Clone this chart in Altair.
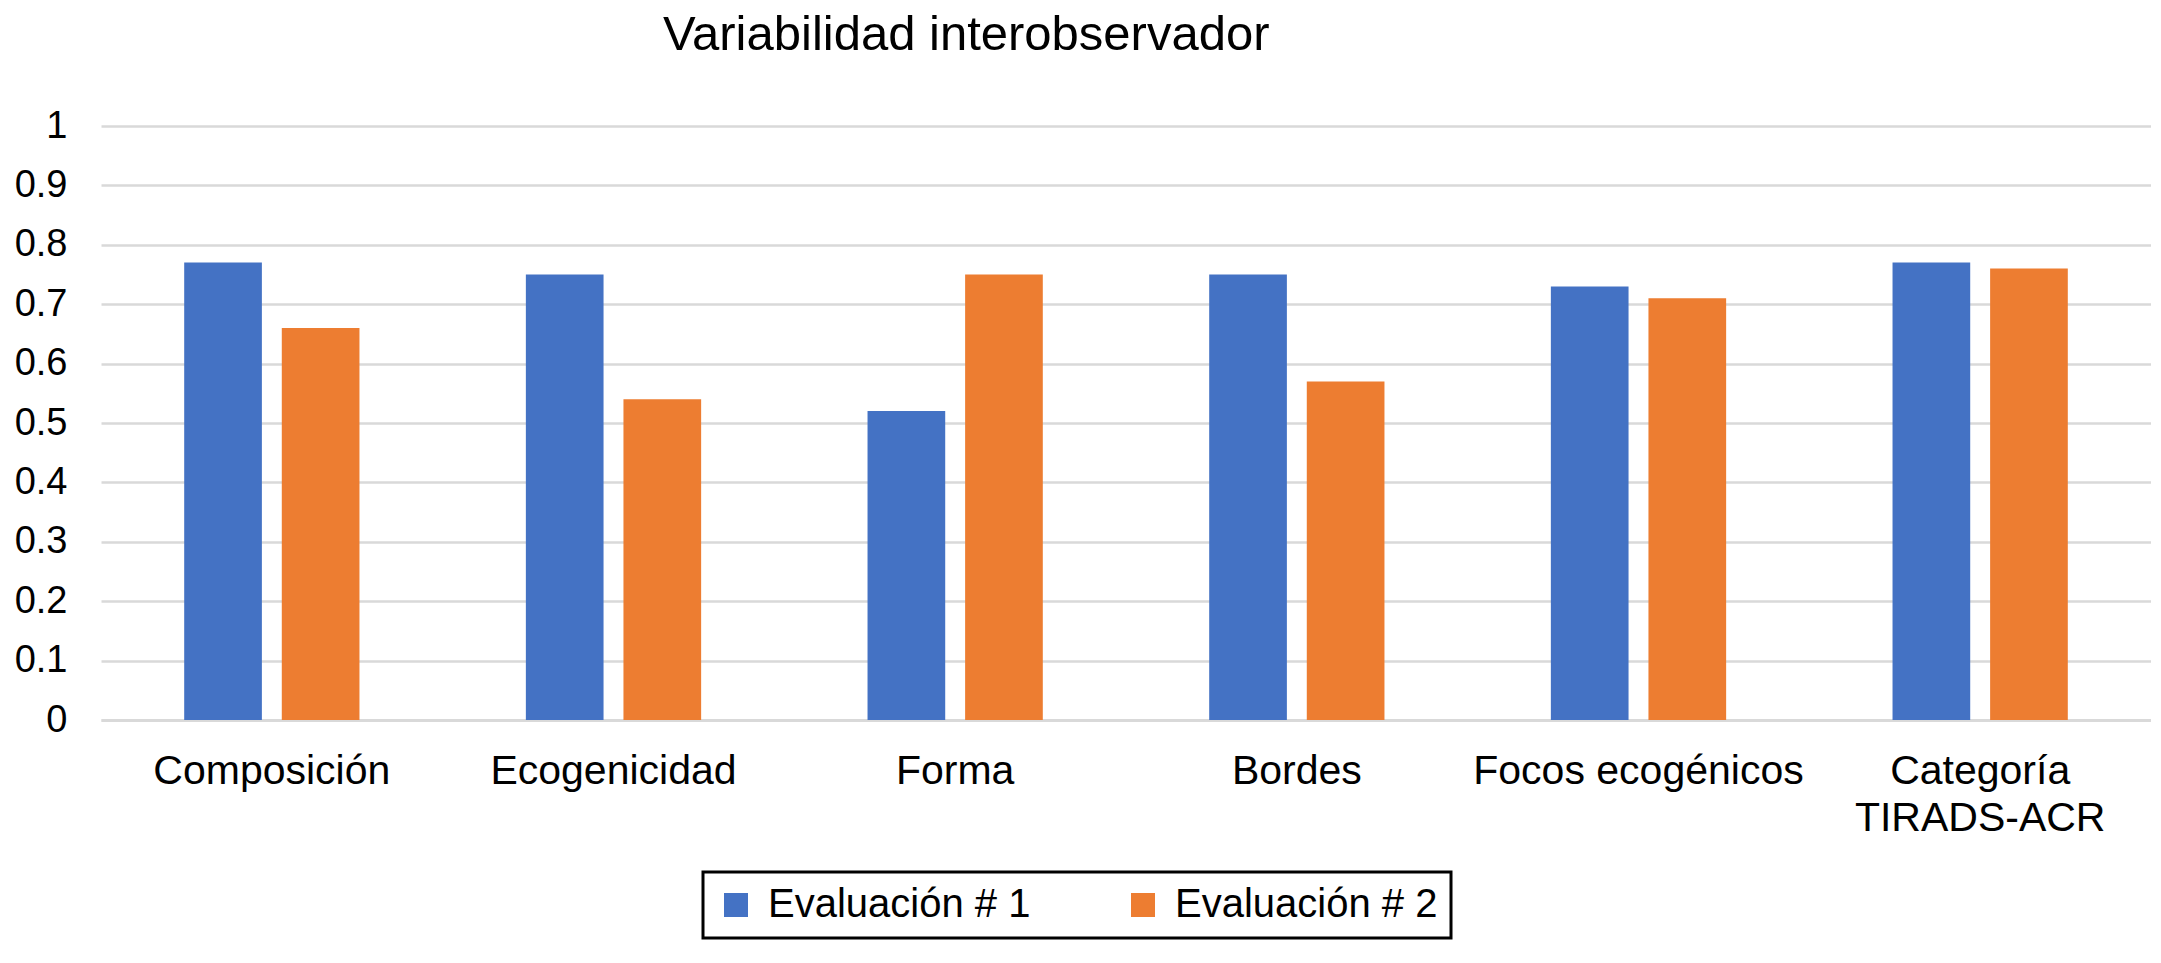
import altair as alt
import pandas as pd

categorias = ["Composición", "Ecogenicidad", "Forma", "Bordes", "Focos ecogénicos", "Categoría TIRADS-ACR"]
evaluacion_1 = [0.77, 0.75, 0.52, 0.75, 0.73, 0.77]
evaluacion_2 = [0.66, 0.54, 0.75, 0.57, 0.71, 0.76]
series = ["Evaluación # 1", "Evaluación # 2"]
colores = ["#4472C4", "#ED7D31"]
ticks_y = [0, 0.1, 0.2, 0.3, 0.4, 0.5, 0.6, 0.7, 0.8, 0.9, 1]

rows = []
for c, a, b in zip(categorias, evaluacion_1, evaluacion_2):
    rows.append({"cat": c, "serie": series[0], "valor": a})
    rows.append({"cat": c, "serie": series[1], "valor": b})
df = pd.DataFrame(rows)

FONT = "Liberation Sans"

chart = alt.Chart(df).mark_bar().encode(
    x=alt.X(
        "cat:N",
        sort=categorias,
        scale=alt.Scale(paddingInner=0.487, paddingOuter=0.2435),
        axis=alt.Axis(
            title=None, labelAngle=0, labelFontSize=41, labelPadding=31,
            ticks=False, domainColor="#d9d9d9", domainWidth=3, labelLimit=500,
            labelLineHeight=47, labelColor="black", labelFont=FONT,
            labelOverlap=False,
            labelExpr="datum.label == 'Categoría TIRADS-ACR' ? ['Categoría', 'TIRADS-ACR'] : datum.label",
        ),
    ),
    xOffset=alt.XOffset("serie:N", sort=series, scale=alt.Scale(paddingInner=0.204, paddingOuter=0)),
    y=alt.Y(
        "valor:Q",
        scale=alt.Scale(domain=[0, 1]),
        axis=alt.Axis(
            title=None, values=ticks_y, format="~g", labelFontSize=38, labelPadding=34,
            ticks=False, domain=False, gridColor="#d9d9d9", gridWidth=2.5,
            labelColor="black", labelFont=FONT,
        ),
    ),
    color=alt.Color(
        "serie:N",
        scale=alt.Scale(domain=series, range=colores),
        legend=alt.Legend(
            title=None, orient="none", legendX=602, legendY=746, direction="horizontal",
            symbolType="square", symbolSize=576, symbolStrokeWidth=0, symbolOpacity=1,
            labelFontSize=40, labelFont=FONT, labelColor="black", labelOffset=12,
            columnPadding=92, padding=13, labelLimit=500,
        ),
    ),
).properties(
    width=2050,
    height=594,
    title=alt.TitleParams(
        "Variabilidad interobservador", anchor="start", frame="group", dx=562,
        fontSize=49, font=FONT, fontWeight="normal", color="black", offset=47,
    ),
    autosize=alt.AutoSizeParams(type="none"),
    padding={"left": 93, "top": 118, "right": 0, "bottom": 226},
).configure_view(strokeWidth=0).configure_legend(strokeColor="black", strokeWidth=3)

chart.save("out.html", embed_options={"renderer": "svg", "actions": False})
